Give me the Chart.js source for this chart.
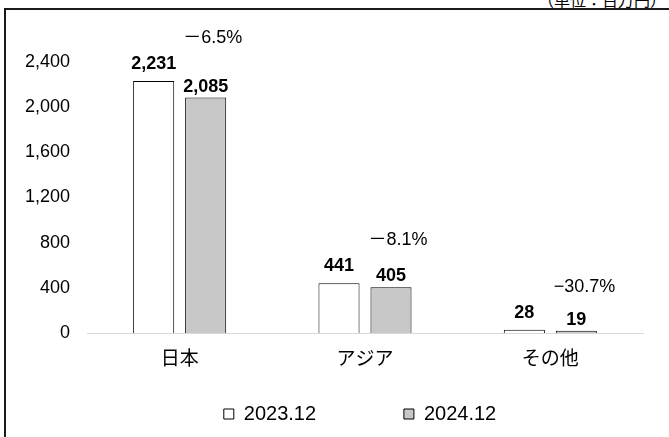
<!DOCTYPE html>
<html>
<head>
<meta charset="utf-8">
<script src="https://cdn.jsdelivr.net/npm/chart.js@4.4.1/dist/chart.umd.min.js"></script>
<style>
  html, body { margin: 0; padding: 0; background: #fff; overflow: hidden; }
  #wrap { position: relative; width: 669px; height: 437px; overflow: hidden; }
  #frame { position: absolute; left: 4px; top: 8px; width: 700px; height: 460px; border: 2px solid #1a1a1a; box-sizing: border-box; }
  #unit { position: absolute; left: 538px; top: -9px; font: 16px 'Noto Sans CJK JP', sans-serif; line-height: 1; white-space: nowrap; color: #000; }
  #chart { position: absolute; left: 0; top: 0; }
</style>
</head>
<body>
<div id="wrap">
  <div id="frame"></div>
  <div id="unit">（単位：百万円）</div>
  <canvas id="chart" width="720" height="437"></canvas>
</div>
<script>
const categories = ['日本', 'アジア', 'その他'];
const seriesNames = ['2023.12', '2024.12'];
const values2023 = [2231, 441, 28];
const values2024 = [2085, 405, 19];
const changeLabels = ['－6.5%', '－8.1%', '−30.7%'];
const yMax = 2400;
const yStep = 400;

const numFont = "'Liberation Sans', 'Noto Sans CJK JP', sans-serif";
const jpFont = "'Noto Sans CJK JP', 'Liberation Sans', sans-serif";

// value labels above bars and the change % per category
const labelPlugin = {
  id: 'barLabels',
  afterDatasetsDraw(chart) {
    const ctx = chart.ctx;
    ctx.save();
    ctx.fillStyle = '#000';
    ctx.textAlign = 'center';
    ctx.textBaseline = 'alphabetic';
    ctx.font = 'bold 18px ' + numFont;
    chart.data.datasets.forEach((ds, i) => {
      const meta = chart.getDatasetMeta(i);
      meta.data.forEach((bar, j) => {
        const gap = i === 0 ? 12 : 6;
        ctx.fillText(ds.data[j].toLocaleString('en-US'), bar.x, bar.y - gap);
      });
    });
    ctx.font = '18px ' + numFont;
    ctx.textAlign = 'left';
    ctx.textBaseline = 'middle';
    const m0 = chart.getDatasetMeta(0);
    const m1 = chart.getDatasetMeta(1);
    changeLabels.forEach((t, j) => {
      const gray = m1.data[j];
      const white = m0.data[j];
      ctx.fillText(t, gray.x - gray.width / 2 - 2, white.y - 43);
    });
    ctx.restore();
  }
};

const config = {
  type: 'bar',
  data: {
    labels: categories,
    datasets: [
      {
        label: seriesNames[0],
        data: values2023,
        backgroundColor: '#ffffff',
        borderColor: '#000000',
        borderWidth: 1,
        categoryPercentage: 0.561,
        barPercentage: 0.79
      },
      {
        label: seriesNames[1],
        data: values2024,
        backgroundColor: '#c8c8c8',
        borderColor: '#000000',
        borderWidth: 1,
        categoryPercentage: 0.561,
        barPercentage: 0.79
      }
    ]
  },
  options: {
    responsive: false,
    animation: false,
    layout: { padding: { left: 0, right: 0, top: 62, bottom: 3 } },
    scales: {
      x: {
        grid: { display: false, drawTicks: false },
        border: { display: true, color: '#d9d9d9', width: 1 },
        ticks: { color: '#000', font: { family: jpFont, size: 19 }, padding: 13 },
        afterFit(axis) { axis.height = 61; }
      },
      y: {
        min: 0,
        max: yMax,
        grid: { display: false, drawTicks: false },
        border: { display: false },
        ticks: {
          stepSize: yStep,
          color: '#000',
          padding: 17,
          font: { family: numFont, size: 18 },
          callback: v => v.toLocaleString('en-US')
        },
        afterFit(axis) { axis.width = 87; }
      },
      // empty right-hand axis, only reserves the space right of the plot
      y2: {
        position: 'right',
        min: 0,
        max: yMax,
        grid: { display: false, drawTicks: false },
        border: { display: false },
        ticks: { display: false },
        afterFit(axis) { axis.width = 77; }
      }
    },
    plugins: {
      tooltip: { enabled: false },
      legend: {
        display: true,
        position: 'bottom',
        labels: {
          color: '#000',
          boxWidth: 10,
          boxHeight: 10,
          padding: 10,
          font: { family: numFont, size: 20 },
          generateLabels(chart) {
            const items = Chart.defaults.plugins.legend.labels.generateLabels(chart);
            items.forEach(it => { it.lineWidth = 1; it.strokeStyle = '#000'; });
            items[0].text = items[0].text + ' '.repeat(14);
            return items;
          }
        }
      }
    }
  },
  plugins: [labelPlugin]
};

const myChart = new Chart(document.getElementById('chart').getContext('2d'), config);
</script>
</body>
</html>
